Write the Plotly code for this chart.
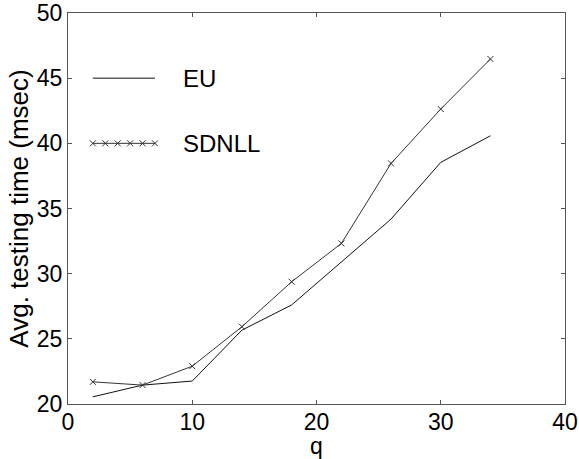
import plotly.graph_objects as go

q = [2, 6, 10, 14, 18, 22, 26, 30, 34]
eu = [20.55, 21.45, 21.76, 25.67, 27.6, 30.9, 34.19, 38.54, 40.58]
sdnll = [21.7, 21.45, 22.9, 25.93, 29.38, 32.32, 38.46, 42.63, 46.47]

x_ticks = [0, 10, 20, 30, 40]
y_ticks = [20, 25, 30, 35, 40, 45, 50]

# in-plot legend samples (data coordinates)
leg_eu_x = [2, 7]
leg_eu_y = [45, 45]
leg_sd_x = [2, 3, 4, 5, 6, 7]
leg_sd_y = [40, 40, 40, 40, 40, 40]

FONT = "Liberation Sans, Arial, Helvetica, sans-serif"

fig = go.Figure()
fig.add_trace(go.Scatter(x=q, y=eu, mode="lines", name="EU",
                         line=dict(color="#111111", width=1), showlegend=False))
fig.add_trace(go.Scatter(x=q, y=sdnll, mode="lines+markers", name="SDNLL",
                         line=dict(color="#333333", width=1),
                         marker=dict(symbol="x-thin", size=6,
                                     line=dict(color="#333333", width=1)),
                         showlegend=False))
fig.add_trace(go.Scatter(x=leg_eu_x, y=leg_eu_y, mode="lines",
                         line=dict(color="#111111", width=1), showlegend=False,
                         hoverinfo="skip"))
fig.add_trace(go.Scatter(x=leg_sd_x, y=leg_sd_y, mode="lines+markers",
                         line=dict(color="#333333", width=1),
                         marker=dict(symbol="x-thin", size=6,
                                     line=dict(color="#333333", width=1)),
                         showlegend=False, hoverinfo="skip"))

fig.add_annotation(x=9.1, y=45, text="EU", showarrow=False, xanchor="left",
                   font=dict(family=FONT, size=24, color="black"))
fig.add_annotation(x=9.1, y=40, text="SDNLL", showarrow=False, xanchor="left",
                   font=dict(family=FONT, size=24, color="black"))

axis_common = dict(showgrid=False, zeroline=False, showline=True,
                   linecolor="#555555", linewidth=1, mirror="ticks",
                   ticks="inside", ticklen=4, tickcolor="#555555",
                   tickfont=dict(family=FONT, size=23, color="black"))

fig.update_xaxes(range=[0, 40], tickvals=x_ticks, ticklabelstandoff=-3,
                 title=dict(text="q", font=dict(family=FONT, size=23, color="black"),
                            standoff=4),
                 **axis_common)
fig.update_yaxes(range=[20, 50], tickvals=y_ticks, ticklabelstandoff=0,
                 title=dict(text="Avg. testing time (msec)",
                            font=dict(family=FONT, size=26, color="black"),
                            standoff=0),
                 **axis_common)

fig.update_layout(width=579, height=459, plot_bgcolor="white", paper_bgcolor="white",
                  margin=dict(l=68, r=14, t=13, b=55, autoexpand=False))

fig.write_html("out.html")
